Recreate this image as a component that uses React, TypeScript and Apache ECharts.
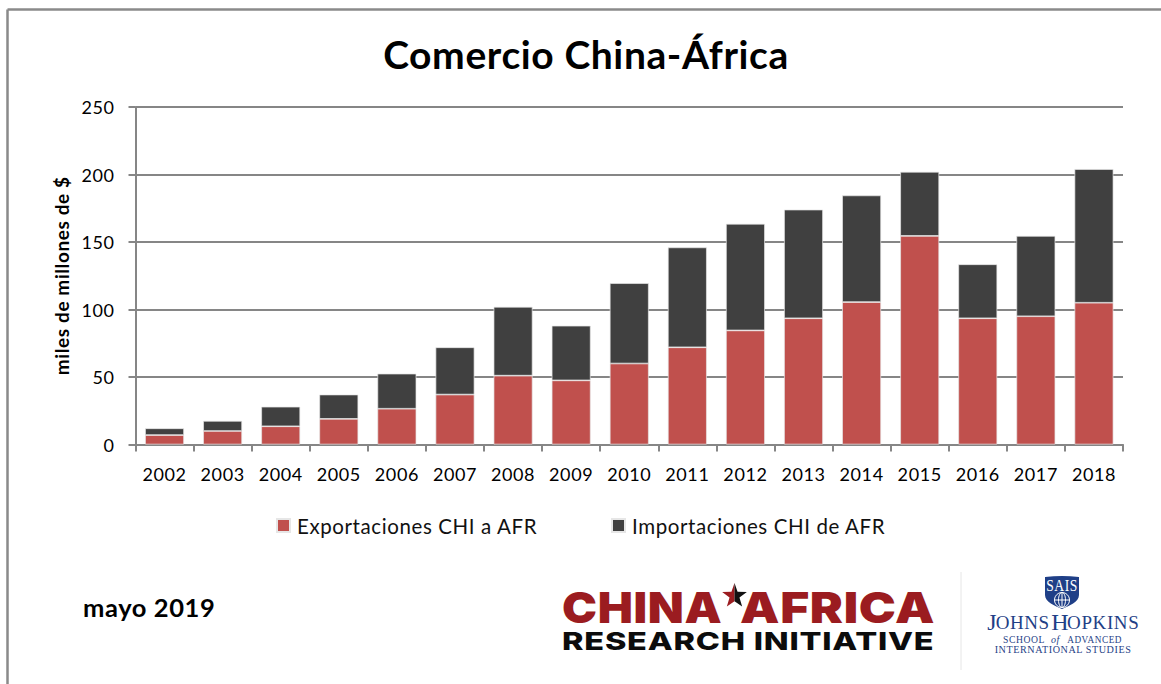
import React, { useEffect, useRef } from "react";
import * as echarts from "echarts";

const years = ["2002","2003","2004","2005","2006","2007","2008","2009","2010","2011","2012","2013","2014","2015","2016","2017","2018"];
const exportsToAfrica = [7, 10, 13.5, 19, 26.5, 37, 51, 47.5, 60, 72, 84.5, 93.5, 105.5, 154.5, 93.5, 95, 105];
const importsFromAfrica = [5, 7.5, 14.5, 18, 26, 35, 51, 40.5, 59.5, 74, 79, 80.5, 79, 47.5, 40, 59.5, 99];
const exportsName = "Exportaciones CHI a AFR";
const importsName = "Importaciones CHI de AFR";
const titleText = "Comercio China-África";
const yAxisTitle = "miles de millones de $";
const dateText = "mayo 2019";

const FONT = "Lato, 'Open Sans', sans-serif";
const LOGO_FONT = "Inter, 'Liberation Sans', sans-serif";
const SERIF = "'Liberation Serif', serif";
const GREY = "#868686";
const RED = "#c0504d";
const DARK = "#404040";
const BRAND_RED = "#9b1c20";
const NAVY = "#1f3f87";

echarts.graphic.registerShape(
  "saisShield",
  echarts.graphic.extendPath(
    "M0 1 Q17 -1 34 1 L34 19 C34 26 24 30 17 33 C10 30 0 26 0 19 Z",
    {}
  )
);

const text = (x: number, y: number, str: string, style: any, scaleX = 1) => ({
  type: "text",
  x,
  y,
  scaleX,
  silent: true,
  style: { text: str, textVerticalAlign: "middle", ...style },
});

// Five-pointed star; index 0 is the top point, index 5 the lowest inner corner.
const starPoints = (cx: number, cy: number, outer: number, inner: number) =>
  Array.from({ length: 10 }, (_, i) => {
    const r = i % 2 === 0 ? outer : inner;
    const a = (i * Math.PI) / 5;
    return [cx + r * Math.sin(a), cy - r * Math.cos(a)];
  });
const star = starPoints(734.5, 596, 13, 5.2);

const frame = [
  { type: "line", shape: { x1: 7.5, y1: 9.5, x2: 1161, y2: 9.5 }, style: { stroke: "#8a8a8a", lineWidth: 2.5 } },
  { type: "line", shape: { x1: 7.5, y1: 9.5, x2: 7.5, y2: 684 }, style: { stroke: "#8a8a8a", lineWidth: 2.5 } },
];

const brandStyle = { fontSize: 43, fontWeight: 900, fontFamily: LOGO_FONT, fill: BRAND_RED };

const logos = [
  text(562, 607.5, "CHINA", brandStyle, 1.09),
  text(740, 607.5, "AFRICA", brandStyle, 1.155),
  { type: "polygon", shape: { points: [...star.slice(5), star[0]] }, style: { fill: BRAND_RED } },
  { type: "polygon", shape: { points: star.slice(0, 6) }, style: { fill: "#111" } },
  text(562, 641, "RESEARCH INITIATIVE", { fontSize: 25, fontWeight: 800, fontFamily: LOGO_FONT, fill: "#0c0c0c" }, 1.3),
  { type: "line", shape: { x1: 961, y1: 572, x2: 961, y2: 670 }, style: { stroke: "#e6e6e6", lineWidth: 1 } },
  { type: "saisShield", x: 1045, y: 576, style: { fill: NAVY } },
  text(1062, 585, "SAIS", { fontSize: 17, fontFamily: SERIF, fill: "#fff", textAlign: "center" }, 0.8),
  { type: "circle", shape: { cx: 1062, cy: 600, r: 7.5 }, style: { fill: NAVY, stroke: "#fff", lineWidth: 1 } },
  { type: "line", shape: { x1: 1054.5, y1: 600, x2: 1069.5, y2: 600 }, style: { stroke: "#fff", lineWidth: 1 } },
  { type: "line", shape: { x1: 1062, y1: 592.5, x2: 1062, y2: 607.5 }, style: { stroke: "#fff", lineWidth: 1 } },
  { type: "ellipse", shape: { cx: 1062, cy: 600, rx: 3.5, ry: 7.5 }, style: { fill: "none", stroke: "#fff", lineWidth: 1 } },
  text(1062.5, 622, "{a|J}{b|OHNS} {a|H}{b|OPKINS}", {
    textAlign: "center",
    fontFamily: SERIF,
    fill: NAVY,
    rich: {
      a: { fontSize: 24, fontFamily: SERIF, fill: NAVY },
      b: { fontSize: 19, fontFamily: SERIF, fill: NAVY },
    },
  }),
  text(1003, 639, "SCHOOL", { fontSize: 10.5, fontFamily: SERIF, fill: NAVY }, 0.92),
  text(1051, 639, "of", { fontSize: 10, fontStyle: "italic", fontFamily: SERIF, fill: NAVY }),
  text(1122, 639, "ADVANCED", { textAlign: "right", fontSize: 10.5, fontFamily: SERIF, fill: NAVY }, 0.88),
  text(1063, 649.5, "INTERNATIONAL STUDIES", { textAlign: "center", fontSize: 10.5, fontFamily: SERIF, fill: NAVY }, 0.965),
];

const legendBase = {
  orient: "horizontal",
  itemWidth: 13,
  itemHeight: 13,
  itemGap: 0,
  icon: "rect",
  padding: 0,
  top: 515,
  textStyle: { fontFamily: FONT, fontSize: 20.5, color: "#111", padding: [0, 0, 0, 2] },
};

export default function App() {
  const ref = useRef<HTMLDivElement>(null);

  useEffect(() => {
    const chart = echarts.init(ref.current!, undefined, { renderer: "svg" });
    chart.setOption({
      animation: false,
      backgroundColor: "#fff",
      title: {
        text: titleText,
        left: 581,
        top: 29,
        textAlign: "center",
        textStyle: { fontFamily: FONT, fontSize: 39, fontWeight: 700, color: "#000" },
      },
      legend: [
        { ...legendBase, left: 276, data: [exportsName] },
        { ...legendBase, left: 611, data: [importsName] },
      ],
      grid: { left: 135.5, right: 38, top: 107, bottom: 239.5 },
      xAxis: {
        type: "category",
        data: years,
        axisLine: { lineStyle: { color: GREY, width: 2 } },
        axisTick: { show: true, alignWithLabel: false, length: 7, lineStyle: { color: GREY, width: 2 } },
        axisLabel: { fontFamily: FONT, fontSize: 18, color: "#000", margin: 20, interval: 0 },
      },
      yAxis: {
        type: "value",
        min: 0,
        max: 250,
        interval: 50,
        name: yAxisTitle,
        nameLocation: "middle",
        nameGap: 65,
        nameTextStyle: { fontFamily: FONT, fontSize: 19, fontWeight: 700, color: "#000" },
        axisLine: { show: true, lineStyle: { color: GREY, width: 2 } },
        axisTick: { show: true, length: 7, lineStyle: { color: GREY, width: 2 } },
        axisLabel: { fontFamily: FONT, fontSize: 18, color: "#000", margin: 21 },
        splitLine: { show: true, lineStyle: { color: GREY, width: 2 } },
      },
      series: [
        {
          name: exportsName,
          type: "bar",
          stack: "trade",
          data: exportsToAfrica,
          barCategoryGap: "33%",
          itemStyle: { color: RED, borderColor: "#e6e6e6", borderWidth: 0.7 },
        },
        {
          name: importsName,
          type: "bar",
          stack: "trade",
          data: importsFromAfrica,
          barCategoryGap: "33%",
          itemStyle: { color: DARK, borderColor: "#e6e6e6", borderWidth: 0.7 },
        },
      ],
      graphic: [
        ...frame,
        text(83, 607, dateText, { fontFamily: FONT, fontSize: 25.5, fontWeight: 700, fill: "#000" }),
        ...logos,
      ],
    });
    return () => chart.dispose();
  }, []);

  return (
    <div
      ref={ref}
      style={{ position: "absolute", left: 0, top: 0, width: 1161, height: 684, letterSpacing: "0.6px" }}
    />
  );
}
